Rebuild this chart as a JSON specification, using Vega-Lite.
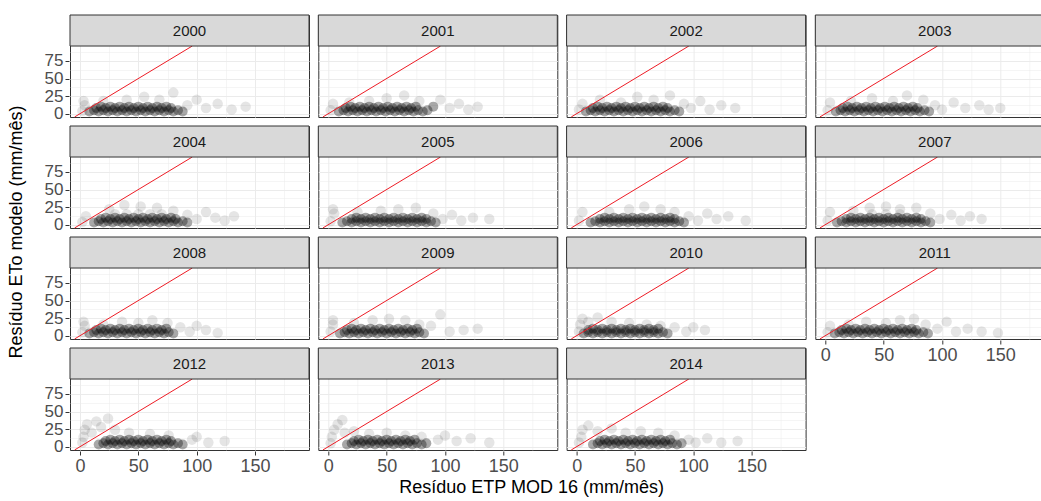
{
"$schema": "https://vega.github.io/schema/vega-lite/v6.json",
"background": "white",
"padding": {"left": 7, "top": 13, "right": 0, "bottom": 5},
"config": {
  "font": "Liberation Sans",
  "view": {"stroke": "#333333", "strokeWidth": 1},
  "axis": {"domain": false, "title": null, "labelColor": "#4d4d4d", "tickColor": "#333333", "tickSize": 4, "labelPadding": 2, "labelOverlap": false, "labelFlush": false, "gridColor": "#ebebeb", "gridWidth": 1, "labelFont": "Liberation Sans"}
},
"title": {"text": "Resíduo ETP MOD 16 (mm/mês)", "orient": "bottom", "anchor": "middle", "fontSize": 18, "fontWeight": "normal", "color": "#000000", "font": "Liberation Sans", "offset": 4},
"data": {"values": [
{"ano":2000,"x":8,"y":3},{"ano":2000,"x":12,"y":5},{"ano":2000,"x":16,"y":3},{"ano":2000,"x":20,"y":5},{"ano":2000,"x":24,"y":3},{"ano":2000,"x":28,"y":5},{"ano":2000,"x":32,"y":3},{"ano":2000,"x":36,"y":5},{"ano":2000,"x":40,"y":3},{"ano":2000,"x":44,"y":5},{"ano":2000,"x":48,"y":3},{"ano":2000,"x":52,"y":5},{"ano":2000,"x":56,"y":3},{"ano":2000,"x":60,"y":5},{"ano":2000,"x":64,"y":3},{"ano":2000,"x":68,"y":5},{"ano":2000,"x":72,"y":3},{"ano":2000,"x":76,"y":5},{"ano":2000,"x":80,"y":3},{"ano":2000,"x":84,"y":5},{"ano":2000,"x":88,"y":3},
{"ano":2000,"x":14,"y":8},{"ano":2000,"x":18,"y":10},{"ano":2000,"x":22,"y":8},{"ano":2000,"x":26,"y":10},{"ano":2000,"x":30,"y":8},{"ano":2000,"x":34,"y":10},{"ano":2000,"x":38,"y":8},{"ano":2000,"x":42,"y":10},{"ano":2000,"x":46,"y":8},{"ano":2000,"x":50,"y":10},{"ano":2000,"x":54,"y":8},{"ano":2000,"x":58,"y":10},{"ano":2000,"x":62,"y":8},{"ano":2000,"x":66,"y":10},{"ano":2000,"x":70,"y":8},{"ano":2000,"x":74,"y":10},{"ano":2000,"x":78,"y":8},
{"ano":2000,"x":2,"y":4},{"ano":2000,"x":4,"y":12},{"ano":2000,"x":3,"y":18},{"ano":2000,"x":20,"y":18},{"ano":2000,"x":40,"y":20},{"ano":2000,"x":55,"y":24},{"ano":2000,"x":68,"y":20},{"ano":2000,"x":80,"y":30},{"ano":2000,"x":92,"y":12},{"ano":2000,"x":100,"y":20},{"ano":2000,"x":108,"y":8},{"ano":2000,"x":118,"y":14},{"ano":2000,"x":130,"y":6},{"ano":2000,"x":142,"y":10},

{"ano":2001,"x":9,"y":3},{"ano":2001,"x":13,"y":5},{"ano":2001,"x":17,"y":3},{"ano":2001,"x":21,"y":5},{"ano":2001,"x":25,"y":3},{"ano":2001,"x":29,"y":5},{"ano":2001,"x":33,"y":3},{"ano":2001,"x":37,"y":5},{"ano":2001,"x":41,"y":3},{"ano":2001,"x":45,"y":5},{"ano":2001,"x":49,"y":3},{"ano":2001,"x":53,"y":5},{"ano":2001,"x":57,"y":3},{"ano":2001,"x":61,"y":5},{"ano":2001,"x":65,"y":3},{"ano":2001,"x":69,"y":5},{"ano":2001,"x":73,"y":3},{"ano":2001,"x":77,"y":5},{"ano":2001,"x":81,"y":3},{"ano":2001,"x":85,"y":5},
{"ano":2001,"x":15,"y":8},{"ano":2001,"x":19,"y":10},{"ano":2001,"x":23,"y":8},{"ano":2001,"x":27,"y":10},{"ano":2001,"x":31,"y":8},{"ano":2001,"x":35,"y":10},{"ano":2001,"x":39,"y":8},{"ano":2001,"x":43,"y":10},{"ano":2001,"x":47,"y":8},{"ano":2001,"x":51,"y":10},{"ano":2001,"x":55,"y":8},{"ano":2001,"x":59,"y":10},{"ano":2001,"x":63,"y":8},{"ano":2001,"x":67,"y":10},{"ano":2001,"x":71,"y":8},{"ano":2001,"x":75,"y":10},
{"ano":2001,"x":2,"y":5},{"ano":2001,"x":4,"y":14},{"ano":2001,"x":18,"y":16},{"ano":2001,"x":35,"y":18},{"ano":2001,"x":50,"y":22},{"ano":2001,"x":65,"y":26},{"ano":2001,"x":78,"y":18},{"ano":2001,"x":90,"y":10},{"ano":2001,"x":96,"y":20},{"ano":2001,"x":104,"y":8},{"ano":2001,"x":112,"y":14},{"ano":2001,"x":120,"y":6},{"ano":2001,"x":128,"y":10},

{"ano":2002,"x":8,"y":3},{"ano":2002,"x":12,"y":5},{"ano":2002,"x":16,"y":3},{"ano":2002,"x":20,"y":5},{"ano":2002,"x":24,"y":3},{"ano":2002,"x":28,"y":5},{"ano":2002,"x":32,"y":3},{"ano":2002,"x":36,"y":5},{"ano":2002,"x":40,"y":3},{"ano":2002,"x":44,"y":5},{"ano":2002,"x":48,"y":3},{"ano":2002,"x":52,"y":5},{"ano":2002,"x":56,"y":3},{"ano":2002,"x":60,"y":5},{"ano":2002,"x":64,"y":3},{"ano":2002,"x":68,"y":5},{"ano":2002,"x":72,"y":3},{"ano":2002,"x":76,"y":5},{"ano":2002,"x":80,"y":3},{"ano":2002,"x":84,"y":5},{"ano":2002,"x":88,"y":3},
{"ano":2002,"x":14,"y":8},{"ano":2002,"x":18,"y":10},{"ano":2002,"x":22,"y":8},{"ano":2002,"x":26,"y":10},{"ano":2002,"x":30,"y":8},{"ano":2002,"x":34,"y":10},{"ano":2002,"x":38,"y":8},{"ano":2002,"x":42,"y":10},{"ano":2002,"x":46,"y":8},{"ano":2002,"x":50,"y":10},{"ano":2002,"x":54,"y":8},{"ano":2002,"x":58,"y":10},{"ano":2002,"x":62,"y":8},{"ano":2002,"x":66,"y":10},{"ano":2002,"x":70,"y":8},{"ano":2002,"x":74,"y":10},{"ano":2002,"x":78,"y":8},
{"ano":2002,"x":2,"y":6},{"ano":2002,"x":5,"y":14},{"ano":2002,"x":20,"y":20},{"ano":2002,"x":38,"y":16},{"ano":2002,"x":52,"y":24},{"ano":2002,"x":66,"y":20},{"ano":2002,"x":80,"y":26},{"ano":2002,"x":92,"y":14},{"ano":2002,"x":98,"y":8},{"ano":2002,"x":106,"y":18},{"ano":2002,"x":114,"y":6},{"ano":2002,"x":124,"y":12},{"ano":2002,"x":136,"y":8},

{"ano":2003,"x":9,"y":3},{"ano":2003,"x":13,"y":5},{"ano":2003,"x":17,"y":3},{"ano":2003,"x":21,"y":5},{"ano":2003,"x":25,"y":3},{"ano":2003,"x":29,"y":5},{"ano":2003,"x":33,"y":3},{"ano":2003,"x":37,"y":5},{"ano":2003,"x":41,"y":3},{"ano":2003,"x":45,"y":5},{"ano":2003,"x":49,"y":3},{"ano":2003,"x":53,"y":5},{"ano":2003,"x":57,"y":3},{"ano":2003,"x":61,"y":5},{"ano":2003,"x":65,"y":3},{"ano":2003,"x":69,"y":5},{"ano":2003,"x":73,"y":3},{"ano":2003,"x":77,"y":5},{"ano":2003,"x":81,"y":3},{"ano":2003,"x":85,"y":5},{"ano":2003,"x":89,"y":3},
{"ano":2003,"x":15,"y":8},{"ano":2003,"x":19,"y":10},{"ano":2003,"x":23,"y":8},{"ano":2003,"x":27,"y":10},{"ano":2003,"x":31,"y":8},{"ano":2003,"x":35,"y":10},{"ano":2003,"x":39,"y":8},{"ano":2003,"x":43,"y":10},{"ano":2003,"x":47,"y":8},{"ano":2003,"x":51,"y":10},{"ano":2003,"x":55,"y":8},{"ano":2003,"x":59,"y":10},{"ano":2003,"x":63,"y":8},{"ano":2003,"x":67,"y":10},{"ano":2003,"x":71,"y":8},{"ano":2003,"x":75,"y":10},{"ano":2003,"x":79,"y":8},
{"ano":2003,"x":2,"y":5},{"ano":2003,"x":4,"y":16},{"ano":2003,"x":22,"y":18},{"ano":2003,"x":40,"y":22},{"ano":2003,"x":58,"y":18},{"ano":2003,"x":70,"y":26},{"ano":2003,"x":84,"y":20},{"ano":2003,"x":94,"y":12},{"ano":2003,"x":100,"y":6},{"ano":2003,"x":110,"y":16},{"ano":2003,"x":120,"y":8},{"ano":2003,"x":132,"y":12},{"ano":2003,"x":140,"y":6},{"ano":2003,"x":150,"y":8},

{"ano":2004,"x":12,"y":3},{"ano":2004,"x":16,"y":5},{"ano":2004,"x":20,"y":3},{"ano":2004,"x":24,"y":5},{"ano":2004,"x":28,"y":3},{"ano":2004,"x":32,"y":5},{"ano":2004,"x":36,"y":3},{"ano":2004,"x":40,"y":5},{"ano":2004,"x":44,"y":3},{"ano":2004,"x":48,"y":5},{"ano":2004,"x":52,"y":3},{"ano":2004,"x":56,"y":5},{"ano":2004,"x":60,"y":3},{"ano":2004,"x":64,"y":5},{"ano":2004,"x":68,"y":3},{"ano":2004,"x":72,"y":5},{"ano":2004,"x":76,"y":3},{"ano":2004,"x":80,"y":5},{"ano":2004,"x":84,"y":3},{"ano":2004,"x":88,"y":5},{"ano":2004,"x":92,"y":3},
{"ano":2004,"x":18,"y":8},{"ano":2004,"x":22,"y":10},{"ano":2004,"x":26,"y":8},{"ano":2004,"x":30,"y":10},{"ano":2004,"x":34,"y":8},{"ano":2004,"x":38,"y":10},{"ano":2004,"x":42,"y":8},{"ano":2004,"x":46,"y":10},{"ano":2004,"x":50,"y":8},{"ano":2004,"x":54,"y":10},{"ano":2004,"x":58,"y":8},{"ano":2004,"x":62,"y":10},{"ano":2004,"x":66,"y":8},{"ano":2004,"x":70,"y":10},{"ano":2004,"x":74,"y":8},{"ano":2004,"x":78,"y":10},{"ano":2004,"x":82,"y":8},
{"ano":2004,"x":30,"y":15},{"ano":2004,"x":40,"y":15},{"ano":2004,"x":50,"y":15},{"ano":2004,"x":60,"y":15},{"ano":2004,"x":70,"y":15},
{"ano":2004,"x":2,"y":4},{"ano":2004,"x":5,"y":12},{"ano":2004,"x":25,"y":22},{"ano":2004,"x":38,"y":28},{"ano":2004,"x":52,"y":26},{"ano":2004,"x":66,"y":24},{"ano":2004,"x":80,"y":20},{"ano":2004,"x":92,"y":14},{"ano":2004,"x":100,"y":8},{"ano":2004,"x":108,"y":18},{"ano":2004,"x":116,"y":10},{"ano":2004,"x":124,"y":6},{"ano":2004,"x":132,"y":12},

{"ano":2005,"x":12,"y":3},{"ano":2005,"x":16,"y":5},{"ano":2005,"x":20,"y":3},{"ano":2005,"x":24,"y":5},{"ano":2005,"x":28,"y":3},{"ano":2005,"x":32,"y":5},{"ano":2005,"x":36,"y":3},{"ano":2005,"x":40,"y":5},{"ano":2005,"x":44,"y":3},{"ano":2005,"x":48,"y":5},{"ano":2005,"x":52,"y":3},{"ano":2005,"x":56,"y":5},{"ano":2005,"x":60,"y":3},{"ano":2005,"x":64,"y":5},{"ano":2005,"x":68,"y":3},{"ano":2005,"x":72,"y":5},{"ano":2005,"x":76,"y":3},{"ano":2005,"x":80,"y":5},{"ano":2005,"x":84,"y":3},{"ano":2005,"x":88,"y":5},{"ano":2005,"x":92,"y":3},
{"ano":2005,"x":20,"y":8},{"ano":2005,"x":24,"y":10},{"ano":2005,"x":28,"y":8},{"ano":2005,"x":32,"y":10},{"ano":2005,"x":36,"y":8},{"ano":2005,"x":40,"y":10},{"ano":2005,"x":44,"y":8},{"ano":2005,"x":48,"y":10},{"ano":2005,"x":52,"y":8},{"ano":2005,"x":56,"y":10},{"ano":2005,"x":60,"y":8},{"ano":2005,"x":64,"y":10},{"ano":2005,"x":68,"y":8},{"ano":2005,"x":72,"y":10},{"ano":2005,"x":76,"y":8},{"ano":2005,"x":80,"y":10},{"ano":2005,"x":84,"y":8},
{"ano":2005,"x":2,"y":5},{"ano":2005,"x":5,"y":16},{"ano":2005,"x":4,"y":22},{"ano":2005,"x":25,"y":18},{"ano":2005,"x":45,"y":20},{"ano":2005,"x":60,"y":22},{"ano":2005,"x":75,"y":24},{"ano":2005,"x":90,"y":16},{"ano":2005,"x":98,"y":8},{"ano":2005,"x":106,"y":14},{"ano":2005,"x":114,"y":6},{"ano":2005,"x":124,"y":10},{"ano":2005,"x":138,"y":8},

{"ano":2006,"x":12,"y":3},{"ano":2006,"x":16,"y":5},{"ano":2006,"x":20,"y":3},{"ano":2006,"x":24,"y":5},{"ano":2006,"x":28,"y":3},{"ano":2006,"x":32,"y":5},{"ano":2006,"x":36,"y":3},{"ano":2006,"x":40,"y":5},{"ano":2006,"x":44,"y":3},{"ano":2006,"x":48,"y":5},{"ano":2006,"x":52,"y":3},{"ano":2006,"x":56,"y":5},{"ano":2006,"x":60,"y":3},{"ano":2006,"x":64,"y":5},{"ano":2006,"x":68,"y":3},{"ano":2006,"x":72,"y":5},{"ano":2006,"x":76,"y":3},{"ano":2006,"x":80,"y":5},{"ano":2006,"x":84,"y":3},{"ano":2006,"x":88,"y":5},{"ano":2006,"x":92,"y":3},
{"ano":2006,"x":20,"y":8},{"ano":2006,"x":24,"y":10},{"ano":2006,"x":28,"y":8},{"ano":2006,"x":32,"y":10},{"ano":2006,"x":36,"y":8},{"ano":2006,"x":40,"y":10},{"ano":2006,"x":44,"y":8},{"ano":2006,"x":48,"y":10},{"ano":2006,"x":52,"y":8},{"ano":2006,"x":56,"y":10},{"ano":2006,"x":60,"y":8},{"ano":2006,"x":64,"y":10},{"ano":2006,"x":68,"y":8},{"ano":2006,"x":72,"y":10},{"ano":2006,"x":76,"y":8},{"ano":2006,"x":80,"y":10},{"ano":2006,"x":84,"y":8},
{"ano":2006,"x":2,"y":6},{"ano":2006,"x":5,"y":18},{"ano":2006,"x":28,"y":18},{"ano":2006,"x":45,"y":22},{"ano":2006,"x":58,"y":26},{"ano":2006,"x":72,"y":22},{"ano":2006,"x":84,"y":18},{"ano":2006,"x":96,"y":12},{"ano":2006,"x":104,"y":6},{"ano":2006,"x":112,"y":16},{"ano":2006,"x":120,"y":8},{"ano":2006,"x":130,"y":12},{"ano":2006,"x":145,"y":6},

{"ano":2007,"x":10,"y":3},{"ano":2007,"x":14,"y":5},{"ano":2007,"x":18,"y":3},{"ano":2007,"x":22,"y":5},{"ano":2007,"x":26,"y":3},{"ano":2007,"x":30,"y":5},{"ano":2007,"x":34,"y":3},{"ano":2007,"x":38,"y":5},{"ano":2007,"x":42,"y":3},{"ano":2007,"x":46,"y":5},{"ano":2007,"x":50,"y":3},{"ano":2007,"x":54,"y":5},{"ano":2007,"x":58,"y":3},{"ano":2007,"x":62,"y":5},{"ano":2007,"x":66,"y":3},{"ano":2007,"x":70,"y":5},{"ano":2007,"x":74,"y":3},{"ano":2007,"x":78,"y":5},{"ano":2007,"x":82,"y":3},{"ano":2007,"x":86,"y":5},{"ano":2007,"x":90,"y":3},
{"ano":2007,"x":18,"y":8},{"ano":2007,"x":22,"y":10},{"ano":2007,"x":26,"y":8},{"ano":2007,"x":30,"y":10},{"ano":2007,"x":34,"y":8},{"ano":2007,"x":38,"y":10},{"ano":2007,"x":42,"y":8},{"ano":2007,"x":46,"y":10},{"ano":2007,"x":50,"y":8},{"ano":2007,"x":54,"y":10},{"ano":2007,"x":58,"y":8},{"ano":2007,"x":62,"y":10},{"ano":2007,"x":66,"y":8},{"ano":2007,"x":70,"y":10},{"ano":2007,"x":74,"y":8},{"ano":2007,"x":78,"y":10},{"ano":2007,"x":82,"y":8},
{"ano":2007,"x":40,"y":15},{"ano":2007,"x":52,"y":15},{"ano":2007,"x":64,"y":15},
{"ano":2007,"x":2,"y":6},{"ano":2007,"x":4,"y":18},{"ano":2007,"x":24,"y":20},{"ano":2007,"x":38,"y":24},{"ano":2007,"x":52,"y":26},{"ano":2007,"x":64,"y":22},{"ano":2007,"x":78,"y":24},{"ano":2007,"x":90,"y":16},{"ano":2007,"x":98,"y":8},{"ano":2007,"x":108,"y":14},{"ano":2007,"x":116,"y":6},{"ano":2007,"x":124,"y":12},{"ano":2007,"x":134,"y":8},

{"ano":2008,"x":8,"y":3},{"ano":2008,"x":12,"y":5},{"ano":2008,"x":16,"y":3},{"ano":2008,"x":20,"y":5},{"ano":2008,"x":24,"y":3},{"ano":2008,"x":28,"y":5},{"ano":2008,"x":32,"y":3},{"ano":2008,"x":36,"y":5},{"ano":2008,"x":40,"y":3},{"ano":2008,"x":44,"y":5},{"ano":2008,"x":48,"y":3},{"ano":2008,"x":52,"y":5},{"ano":2008,"x":56,"y":3},{"ano":2008,"x":60,"y":5},{"ano":2008,"x":64,"y":3},{"ano":2008,"x":68,"y":5},{"ano":2008,"x":72,"y":3},{"ano":2008,"x":76,"y":5},{"ano":2008,"x":80,"y":3},
{"ano":2008,"x":14,"y":8},{"ano":2008,"x":18,"y":10},{"ano":2008,"x":22,"y":8},{"ano":2008,"x":26,"y":10},{"ano":2008,"x":30,"y":8},{"ano":2008,"x":34,"y":10},{"ano":2008,"x":38,"y":8},{"ano":2008,"x":42,"y":10},{"ano":2008,"x":46,"y":8},{"ano":2008,"x":50,"y":10},{"ano":2008,"x":54,"y":8},{"ano":2008,"x":58,"y":10},{"ano":2008,"x":62,"y":8},{"ano":2008,"x":66,"y":10},{"ano":2008,"x":70,"y":8},{"ano":2008,"x":74,"y":10},
{"ano":2008,"x":2,"y":5},{"ano":2008,"x":4,"y":14},{"ano":2008,"x":3,"y":20},{"ano":2008,"x":20,"y":16},{"ano":2008,"x":36,"y":20},{"ano":2008,"x":50,"y":18},{"ano":2008,"x":62,"y":22},{"ano":2008,"x":75,"y":18},{"ano":2008,"x":86,"y":12},{"ano":2008,"x":94,"y":6},{"ano":2008,"x":100,"y":14},{"ano":2008,"x":108,"y":8},{"ano":2008,"x":118,"y":4},

{"ano":2009,"x":10,"y":3},{"ano":2009,"x":14,"y":5},{"ano":2009,"x":18,"y":3},{"ano":2009,"x":22,"y":5},{"ano":2009,"x":26,"y":3},{"ano":2009,"x":30,"y":5},{"ano":2009,"x":34,"y":3},{"ano":2009,"x":38,"y":5},{"ano":2009,"x":42,"y":3},{"ano":2009,"x":46,"y":5},{"ano":2009,"x":50,"y":3},{"ano":2009,"x":54,"y":5},{"ano":2009,"x":58,"y":3},{"ano":2009,"x":62,"y":5},{"ano":2009,"x":66,"y":3},{"ano":2009,"x":70,"y":5},{"ano":2009,"x":74,"y":3},{"ano":2009,"x":78,"y":5},{"ano":2009,"x":82,"y":3},
{"ano":2009,"x":16,"y":8},{"ano":2009,"x":20,"y":10},{"ano":2009,"x":24,"y":8},{"ano":2009,"x":28,"y":10},{"ano":2009,"x":32,"y":8},{"ano":2009,"x":36,"y":10},{"ano":2009,"x":40,"y":8},{"ano":2009,"x":44,"y":10},{"ano":2009,"x":48,"y":8},{"ano":2009,"x":52,"y":10},{"ano":2009,"x":56,"y":8},{"ano":2009,"x":60,"y":10},{"ano":2009,"x":64,"y":8},{"ano":2009,"x":68,"y":10},{"ano":2009,"x":72,"y":8},{"ano":2009,"x":76,"y":10},
{"ano":2009,"x":2,"y":6},{"ano":2009,"x":4,"y":16},{"ano":2009,"x":4,"y":22},{"ano":2009,"x":22,"y":18},{"ano":2009,"x":38,"y":22},{"ano":2009,"x":52,"y":24},{"ano":2009,"x":66,"y":22},{"ano":2009,"x":78,"y":16},{"ano":2009,"x":88,"y":14},{"ano":2009,"x":96,"y":30},{"ano":2009,"x":104,"y":6},{"ano":2009,"x":116,"y":8},{"ano":2009,"x":128,"y":10},

{"ano":2010,"x":6,"y":3},{"ano":2010,"x":10,"y":5},{"ano":2010,"x":14,"y":3},{"ano":2010,"x":18,"y":5},{"ano":2010,"x":22,"y":3},{"ano":2010,"x":26,"y":5},{"ano":2010,"x":30,"y":3},{"ano":2010,"x":34,"y":5},{"ano":2010,"x":38,"y":3},{"ano":2010,"x":42,"y":5},{"ano":2010,"x":46,"y":3},{"ano":2010,"x":50,"y":5},{"ano":2010,"x":54,"y":3},{"ano":2010,"x":58,"y":5},{"ano":2010,"x":62,"y":3},{"ano":2010,"x":66,"y":5},{"ano":2010,"x":70,"y":3},{"ano":2010,"x":74,"y":5},{"ano":2010,"x":78,"y":3},
{"ano":2010,"x":10,"y":8},{"ano":2010,"x":14,"y":10},{"ano":2010,"x":18,"y":8},{"ano":2010,"x":22,"y":10},{"ano":2010,"x":26,"y":8},{"ano":2010,"x":30,"y":10},{"ano":2010,"x":34,"y":8},{"ano":2010,"x":38,"y":10},{"ano":2010,"x":42,"y":8},{"ano":2010,"x":46,"y":10},{"ano":2010,"x":50,"y":8},{"ano":2010,"x":54,"y":10},{"ano":2010,"x":58,"y":8},{"ano":2010,"x":62,"y":10},{"ano":2010,"x":66,"y":8},{"ano":2010,"x":70,"y":10},
{"ano":2010,"x":2,"y":6},{"ano":2010,"x":3,"y":16},{"ano":2010,"x":5,"y":24},{"ano":2010,"x":10,"y":20},{"ano":2010,"x":18,"y":26},{"ano":2010,"x":30,"y":20},{"ano":2010,"x":45,"y":18},{"ano":2010,"x":60,"y":16},{"ano":2010,"x":72,"y":14},{"ano":2010,"x":84,"y":12},{"ano":2010,"x":94,"y":6},{"ano":2010,"x":100,"y":12},{"ano":2010,"x":110,"y":8},

{"ano":2011,"x":8,"y":3},{"ano":2011,"x":12,"y":5},{"ano":2011,"x":16,"y":3},{"ano":2011,"x":20,"y":5},{"ano":2011,"x":24,"y":3},{"ano":2011,"x":28,"y":5},{"ano":2011,"x":32,"y":3},{"ano":2011,"x":36,"y":5},{"ano":2011,"x":40,"y":3},{"ano":2011,"x":44,"y":5},{"ano":2011,"x":48,"y":3},{"ano":2011,"x":52,"y":5},{"ano":2011,"x":56,"y":3},{"ano":2011,"x":60,"y":5},{"ano":2011,"x":64,"y":3},{"ano":2011,"x":68,"y":5},{"ano":2011,"x":72,"y":3},{"ano":2011,"x":76,"y":5},{"ano":2011,"x":80,"y":3},{"ano":2011,"x":84,"y":5},{"ano":2011,"x":88,"y":3},
{"ano":2011,"x":14,"y":8},{"ano":2011,"x":18,"y":10},{"ano":2011,"x":22,"y":8},{"ano":2011,"x":26,"y":10},{"ano":2011,"x":30,"y":8},{"ano":2011,"x":34,"y":10},{"ano":2011,"x":38,"y":8},{"ano":2011,"x":42,"y":10},{"ano":2011,"x":46,"y":8},{"ano":2011,"x":50,"y":10},{"ano":2011,"x":54,"y":8},{"ano":2011,"x":58,"y":10},{"ano":2011,"x":62,"y":8},{"ano":2011,"x":66,"y":10},{"ano":2011,"x":70,"y":8},{"ano":2011,"x":74,"y":10},{"ano":2011,"x":78,"y":8},
{"ano":2011,"x":2,"y":5},{"ano":2011,"x":4,"y":14},{"ano":2011,"x":20,"y":16},{"ano":2011,"x":35,"y":20},{"ano":2011,"x":52,"y":18},{"ano":2011,"x":64,"y":22},{"ano":2011,"x":76,"y":24},{"ano":2011,"x":86,"y":16},{"ano":2011,"x":96,"y":10},{"ano":2011,"x":104,"y":20},{"ano":2011,"x":112,"y":6},{"ano":2011,"x":122,"y":10},{"ano":2011,"x":134,"y":6},{"ano":2011,"x":148,"y":4},

{"ano":2012,"x":16,"y":3},{"ano":2012,"x":20,"y":5},{"ano":2012,"x":24,"y":3},{"ano":2012,"x":28,"y":5},{"ano":2012,"x":32,"y":3},{"ano":2012,"x":36,"y":5},{"ano":2012,"x":40,"y":3},{"ano":2012,"x":44,"y":5},{"ano":2012,"x":48,"y":3},{"ano":2012,"x":52,"y":5},{"ano":2012,"x":56,"y":3},{"ano":2012,"x":60,"y":5},{"ano":2012,"x":64,"y":3},{"ano":2012,"x":68,"y":5},{"ano":2012,"x":72,"y":3},{"ano":2012,"x":76,"y":5},{"ano":2012,"x":80,"y":3},{"ano":2012,"x":84,"y":5},{"ano":2012,"x":88,"y":3},
{"ano":2012,"x":22,"y":8},{"ano":2012,"x":26,"y":10},{"ano":2012,"x":30,"y":8},{"ano":2012,"x":34,"y":10},{"ano":2012,"x":38,"y":8},{"ano":2012,"x":42,"y":10},{"ano":2012,"x":46,"y":8},{"ano":2012,"x":50,"y":10},{"ano":2012,"x":54,"y":8},{"ano":2012,"x":58,"y":10},{"ano":2012,"x":62,"y":8},{"ano":2012,"x":66,"y":10},{"ano":2012,"x":70,"y":8},{"ano":2012,"x":74,"y":10},{"ano":2012,"x":78,"y":8},
{"ano":2012,"x":2,"y":6},{"ano":2012,"x":3,"y":14},{"ano":2012,"x":4,"y":24},{"ano":2012,"x":6,"y":32},{"ano":2012,"x":10,"y":20},{"ano":2012,"x":14,"y":36},{"ano":2012,"x":18,"y":28},{"ano":2012,"x":24,"y":40},{"ano":2012,"x":30,"y":24},{"ano":2012,"x":42,"y":20},{"ano":2012,"x":60,"y":18},{"ano":2012,"x":76,"y":16},{"ano":2012,"x":96,"y":10},{"ano":2012,"x":100,"y":14},{"ano":2012,"x":110,"y":6},{"ano":2012,"x":124,"y":8},

{"ano":2013,"x":16,"y":3},{"ano":2013,"x":20,"y":5},{"ano":2013,"x":24,"y":3},{"ano":2013,"x":28,"y":5},{"ano":2013,"x":32,"y":3},{"ano":2013,"x":36,"y":5},{"ano":2013,"x":40,"y":3},{"ano":2013,"x":44,"y":5},{"ano":2013,"x":48,"y":3},{"ano":2013,"x":52,"y":5},{"ano":2013,"x":56,"y":3},{"ano":2013,"x":60,"y":5},{"ano":2013,"x":64,"y":3},{"ano":2013,"x":68,"y":5},{"ano":2013,"x":72,"y":3},{"ano":2013,"x":76,"y":5},{"ano":2013,"x":80,"y":3},{"ano":2013,"x":84,"y":5},
{"ano":2013,"x":22,"y":8},{"ano":2013,"x":26,"y":10},{"ano":2013,"x":30,"y":8},{"ano":2013,"x":34,"y":10},{"ano":2013,"x":38,"y":8},{"ano":2013,"x":42,"y":10},{"ano":2013,"x":46,"y":8},{"ano":2013,"x":50,"y":10},{"ano":2013,"x":54,"y":8},{"ano":2013,"x":58,"y":10},{"ano":2013,"x":62,"y":8},{"ano":2013,"x":66,"y":10},{"ano":2013,"x":70,"y":8},{"ano":2013,"x":74,"y":10},
{"ano":2013,"x":2,"y":5},{"ano":2013,"x":3,"y":14},{"ano":2013,"x":5,"y":24},{"ano":2013,"x":8,"y":32},{"ano":2013,"x":12,"y":38},{"ano":2013,"x":14,"y":20},{"ano":2013,"x":22,"y":22},{"ano":2013,"x":35,"y":18},{"ano":2013,"x":50,"y":20},{"ano":2013,"x":66,"y":16},{"ano":2013,"x":80,"y":14},{"ano":2013,"x":94,"y":10},{"ano":2013,"x":100,"y":16},{"ano":2013,"x":110,"y":8},{"ano":2013,"x":122,"y":12},{"ano":2013,"x":138,"y":6},

{"ano":2014,"x":14,"y":3},{"ano":2014,"x":18,"y":5},{"ano":2014,"x":22,"y":3},{"ano":2014,"x":26,"y":5},{"ano":2014,"x":30,"y":3},{"ano":2014,"x":34,"y":5},{"ano":2014,"x":38,"y":3},{"ano":2014,"x":42,"y":5},{"ano":2014,"x":46,"y":3},{"ano":2014,"x":50,"y":5},{"ano":2014,"x":54,"y":3},{"ano":2014,"x":58,"y":5},{"ano":2014,"x":62,"y":3},{"ano":2014,"x":66,"y":5},{"ano":2014,"x":70,"y":3},{"ano":2014,"x":74,"y":5},{"ano":2014,"x":78,"y":3},{"ano":2014,"x":82,"y":5},{"ano":2014,"x":86,"y":3},{"ano":2014,"x":90,"y":5},
{"ano":2014,"x":20,"y":8},{"ano":2014,"x":24,"y":10},{"ano":2014,"x":28,"y":8},{"ano":2014,"x":32,"y":10},{"ano":2014,"x":36,"y":8},{"ano":2014,"x":40,"y":10},{"ano":2014,"x":44,"y":8},{"ano":2014,"x":48,"y":10},{"ano":2014,"x":52,"y":8},{"ano":2014,"x":56,"y":10},{"ano":2014,"x":60,"y":8},{"ano":2014,"x":64,"y":10},{"ano":2014,"x":68,"y":8},{"ano":2014,"x":72,"y":10},{"ano":2014,"x":76,"y":8},{"ano":2014,"x":80,"y":10},
{"ano":2014,"x":2,"y":6},{"ano":2014,"x":4,"y":14},{"ano":2014,"x":5,"y":24},{"ano":2014,"x":10,"y":30},{"ano":2014,"x":18,"y":22},{"ano":2014,"x":30,"y":26},{"ano":2014,"x":42,"y":20},{"ano":2014,"x":55,"y":22},{"ano":2014,"x":70,"y":20},{"ano":2014,"x":84,"y":16},{"ano":2014,"x":96,"y":10},{"ano":2014,"x":102,"y":6},{"ano":2014,"x":112,"y":12},{"ano":2014,"x":124,"y":6},{"ano":2014,"x":138,"y":8}
]},
"spacing": 7.3,
"hconcat": [
{
"transform": [{"filter": "datum.ano % 4 != 3"}],
"facet": {"field": "ano", "type": "ordinal", "header": {"labels": false, "labelExpr": "''", "labelFontSize": 1, "labelPadding": 0, "title": "Resíduo ETo modelo (mm/mês)", "titleOrient": "left", "titleAngle": -90, "titleFontSize": 18, "titleFontWeight": "normal", "titleColor": "#000000", "titleFont": "Liberation Sans", "titlePadding": 0}},
"columns": 3,
"spacing": {"row": 6, "column": 7.3},
"spec": {
  "width": 239,
  "height": 102,
  "layer": [
    {"mark": {"type": "point", "filled": true, "color": "#000000", "clip": true},
     "encoding": {
       "x": {"field": "x", "type": "quantitative", "scale": {"domain": [-8.6, 196.3], "nice": false, "zero": false}, "axis": {"values": [0, 25, 50, 75, 100, 125, 150, 175], "labelExpr": "datum.value % 50 === 0 ? datum.label : ''", "labelFontSize": 18, "tickOpacity": {"condition": {"test": "datum.value % 50 === 0", "value": 1}, "value": 0}, "gridWidth": {"condition": {"test": "datum.value % 50 === 0", "value": 1}, "value": 0.5}}},
       "y": {"field": "y", "type": "quantitative", "scale": {"domain": [-4.7, 140.3], "nice": false, "zero": false}, "axis": {"values": [0, 12.5, 25, 37.5, 50, 62.5, 75, 87.5], "labelExpr": "datum.value % 25 === 0 ? datum.label : ''", "labelFontSize": 17, "tickOpacity": {"condition": {"test": "datum.value % 25 === 0", "value": 1}, "value": 0}, "gridWidth": {"condition": {"test": "datum.value % 25 === 0", "value": 1}, "value": 0.5}}},
       "opacity": {"condition": {"test": "datum.y <= 10 && datum.x >= 6 && datum.x <= 92", "value": 0.34}, "value": 0.1},
       "size": {"condition": {"test": "datum.y <= 10 && datum.x >= 6 && datum.x <= 92", "value": 100}, "value": 110}
     }},
    {"transform": [{"aggregate": [{"op": "count", "as": "n"}], "groupby": ["ano"]}],
     "layer": [
       {"mark": {"type": "rule", "color": "#ee1c25", "strokeWidth": 1}, "encoding": {
         "x": {"datum": -4.6, "axis": {"values": [0, 25, 50, 75, 100, 125, 150, 175], "labelExpr": "datum.value % 50 === 0 ? datum.label : ''", "labelFontSize": 18, "tickOpacity": {"condition": {"test": "datum.value % 50 === 0", "value": 1}, "value": 0}, "gridWidth": {"condition": {"test": "datum.value % 50 === 0", "value": 1}, "value": 0.5}}},
         "y": {"datum": -4.6, "axis": {"values": [0, 12.5, 25, 37.5, 50, 62.5, 75, 87.5], "labelExpr": "datum.value % 25 === 0 ? datum.label : ''", "labelFontSize": 17, "tickOpacity": {"condition": {"test": "datum.value % 25 === 0", "value": 1}, "value": 0}, "gridWidth": {"condition": {"test": "datum.value % 25 === 0", "value": 1}, "value": 0.5}}},
         "x2": {"datum": 96.2}, "y2": {"datum": 96.2}}},
       {"mark": {"type": "rect", "fill": "#d9d9d9", "stroke": "#333333", "strokeWidth": 1}, "encoding": {
         "x": {"datum": -8.6, "axis": {"values": [0, 25, 50, 75, 100, 125, 150, 175], "labelExpr": "datum.value % 50 === 0 ? datum.label : ''", "labelFontSize": 18, "tickOpacity": {"condition": {"test": "datum.value % 50 === 0", "value": 1}, "value": 0}, "gridWidth": {"condition": {"test": "datum.value % 50 === 0", "value": 1}, "value": 0.5}}},
         "y": {"datum": 96.2, "axis": {"values": [0, 12.5, 25, 37.5, 50, 62.5, 75, 87.5], "labelExpr": "datum.value % 25 === 0 ? datum.label : ''", "labelFontSize": 17, "tickOpacity": {"condition": {"test": "datum.value % 25 === 0", "value": 1}, "value": 0}, "gridWidth": {"condition": {"test": "datum.value % 25 === 0", "value": 1}, "value": 0.5}}},
         "x2": {"datum": 196.3}, "y2": {"datum": 140.3}}},
       {"mark": {"type": "text", "fontSize": 15, "color": "#1a1a1a", "font": "Liberation Sans"}, "encoding": {
         "x": {"datum": 93.85, "axis": {"values": [0, 25, 50, 75, 100, 125, 150, 175], "labelExpr": "datum.value % 50 === 0 ? datum.label : ''", "labelFontSize": 18, "tickOpacity": {"condition": {"test": "datum.value % 50 === 0", "value": 1}, "value": 0}, "gridWidth": {"condition": {"test": "datum.value % 50 === 0", "value": 1}, "value": 0.5}}},
         "y": {"datum": 118.2, "axis": {"values": [0, 12.5, 25, 37.5, 50, 62.5, 75, 87.5], "labelExpr": "datum.value % 25 === 0 ? datum.label : ''", "labelFontSize": 17, "tickOpacity": {"condition": {"test": "datum.value % 25 === 0", "value": 1}, "value": 0}, "gridWidth": {"condition": {"test": "datum.value % 25 === 0", "value": 1}, "value": 0.5}}},
         "text": {"field": "ano"}}}
     ]}
  ]
}
},
{
"transform": [{"filter": "datum.ano % 4 == 3"}],
"facet": {"field": "ano", "type": "ordinal", "header": {"labels": false, "labelExpr": "''", "labelFontSize": 1, "labelPadding": 0, "title": null}},
"columns": 1,
"spacing": {"row": 6, "column": 7.3},
"spec": {
  "width": 239,
  "height": 102,
  "layer": [
    {"mark": {"type": "point", "filled": true, "color": "#000000", "clip": true},
     "encoding": {
       "x": {"field": "x", "type": "quantitative", "scale": {"domain": [-8.6, 196.3], "nice": false, "zero": false}, "axis": {"values": [0, 25, 50, 75, 100, 125, 150, 175], "labelExpr": "datum.value % 50 === 0 ? datum.label : ''", "labelFontSize": 18, "tickOpacity": {"condition": {"test": "datum.value % 50 === 0", "value": 1}, "value": 0}, "gridWidth": {"condition": {"test": "datum.value % 50 === 0", "value": 1}, "value": 0.5}}},
       "y": {"field": "y", "type": "quantitative", "scale": {"domain": [-4.7, 140.3], "nice": false, "zero": false}, "axis": {"values": [0, 12.5, 25, 37.5, 50, 62.5, 75, 87.5], "labels": false, "ticks": false, "gridWidth": {"condition": {"test": "datum.value % 25 === 0", "value": 1}, "value": 0.5}}},
       "opacity": {"condition": {"test": "datum.y <= 10 && datum.x >= 6 && datum.x <= 92", "value": 0.34}, "value": 0.1},
       "size": {"condition": {"test": "datum.y <= 10 && datum.x >= 6 && datum.x <= 92", "value": 100}, "value": 110}
     }},
    {"transform": [{"aggregate": [{"op": "count", "as": "n"}], "groupby": ["ano"]}],
     "layer": [
       {"mark": {"type": "rule", "color": "#ee1c25", "strokeWidth": 1}, "encoding": {
         "x": {"datum": -4.6, "axis": {"values": [0, 25, 50, 75, 100, 125, 150, 175], "labelExpr": "datum.value % 50 === 0 ? datum.label : ''", "labelFontSize": 18, "tickOpacity": {"condition": {"test": "datum.value % 50 === 0", "value": 1}, "value": 0}, "gridWidth": {"condition": {"test": "datum.value % 50 === 0", "value": 1}, "value": 0.5}}},
         "y": {"datum": -4.6, "axis": {"values": [0, 12.5, 25, 37.5, 50, 62.5, 75, 87.5], "labels": false, "ticks": false, "gridWidth": {"condition": {"test": "datum.value % 25 === 0", "value": 1}, "value": 0.5}}},
         "x2": {"datum": 96.2}, "y2": {"datum": 96.2}}},
       {"mark": {"type": "rect", "fill": "#d9d9d9", "stroke": "#333333", "strokeWidth": 1}, "encoding": {
         "x": {"datum": -8.6, "axis": {"values": [0, 25, 50, 75, 100, 125, 150, 175], "labelExpr": "datum.value % 50 === 0 ? datum.label : ''", "labelFontSize": 18, "tickOpacity": {"condition": {"test": "datum.value % 50 === 0", "value": 1}, "value": 0}, "gridWidth": {"condition": {"test": "datum.value % 50 === 0", "value": 1}, "value": 0.5}}},
         "y": {"datum": 96.2, "axis": {"values": [0, 12.5, 25, 37.5, 50, 62.5, 75, 87.5], "labels": false, "ticks": false, "gridWidth": {"condition": {"test": "datum.value % 25 === 0", "value": 1}, "value": 0.5}}},
         "x2": {"datum": 196.3}, "y2": {"datum": 140.3}}},
       {"mark": {"type": "text", "fontSize": 15, "color": "#1a1a1a", "font": "Liberation Sans"}, "encoding": {
         "x": {"datum": 93.85, "axis": {"values": [0, 25, 50, 75, 100, 125, 150, 175], "labelExpr": "datum.value % 50 === 0 ? datum.label : ''", "labelFontSize": 18, "tickOpacity": {"condition": {"test": "datum.value % 50 === 0", "value": 1}, "value": 0}, "gridWidth": {"condition": {"test": "datum.value % 50 === 0", "value": 1}, "value": 0.5}}},
         "y": {"datum": 118.2, "axis": {"values": [0, 12.5, 25, 37.5, 50, 62.5, 75, 87.5], "labels": false, "ticks": false, "gridWidth": {"condition": {"test": "datum.value % 25 === 0", "value": 1}, "value": 0.5}}},
         "text": {"field": "ano"}}}
     ]}
  ]
}
}
]
}
